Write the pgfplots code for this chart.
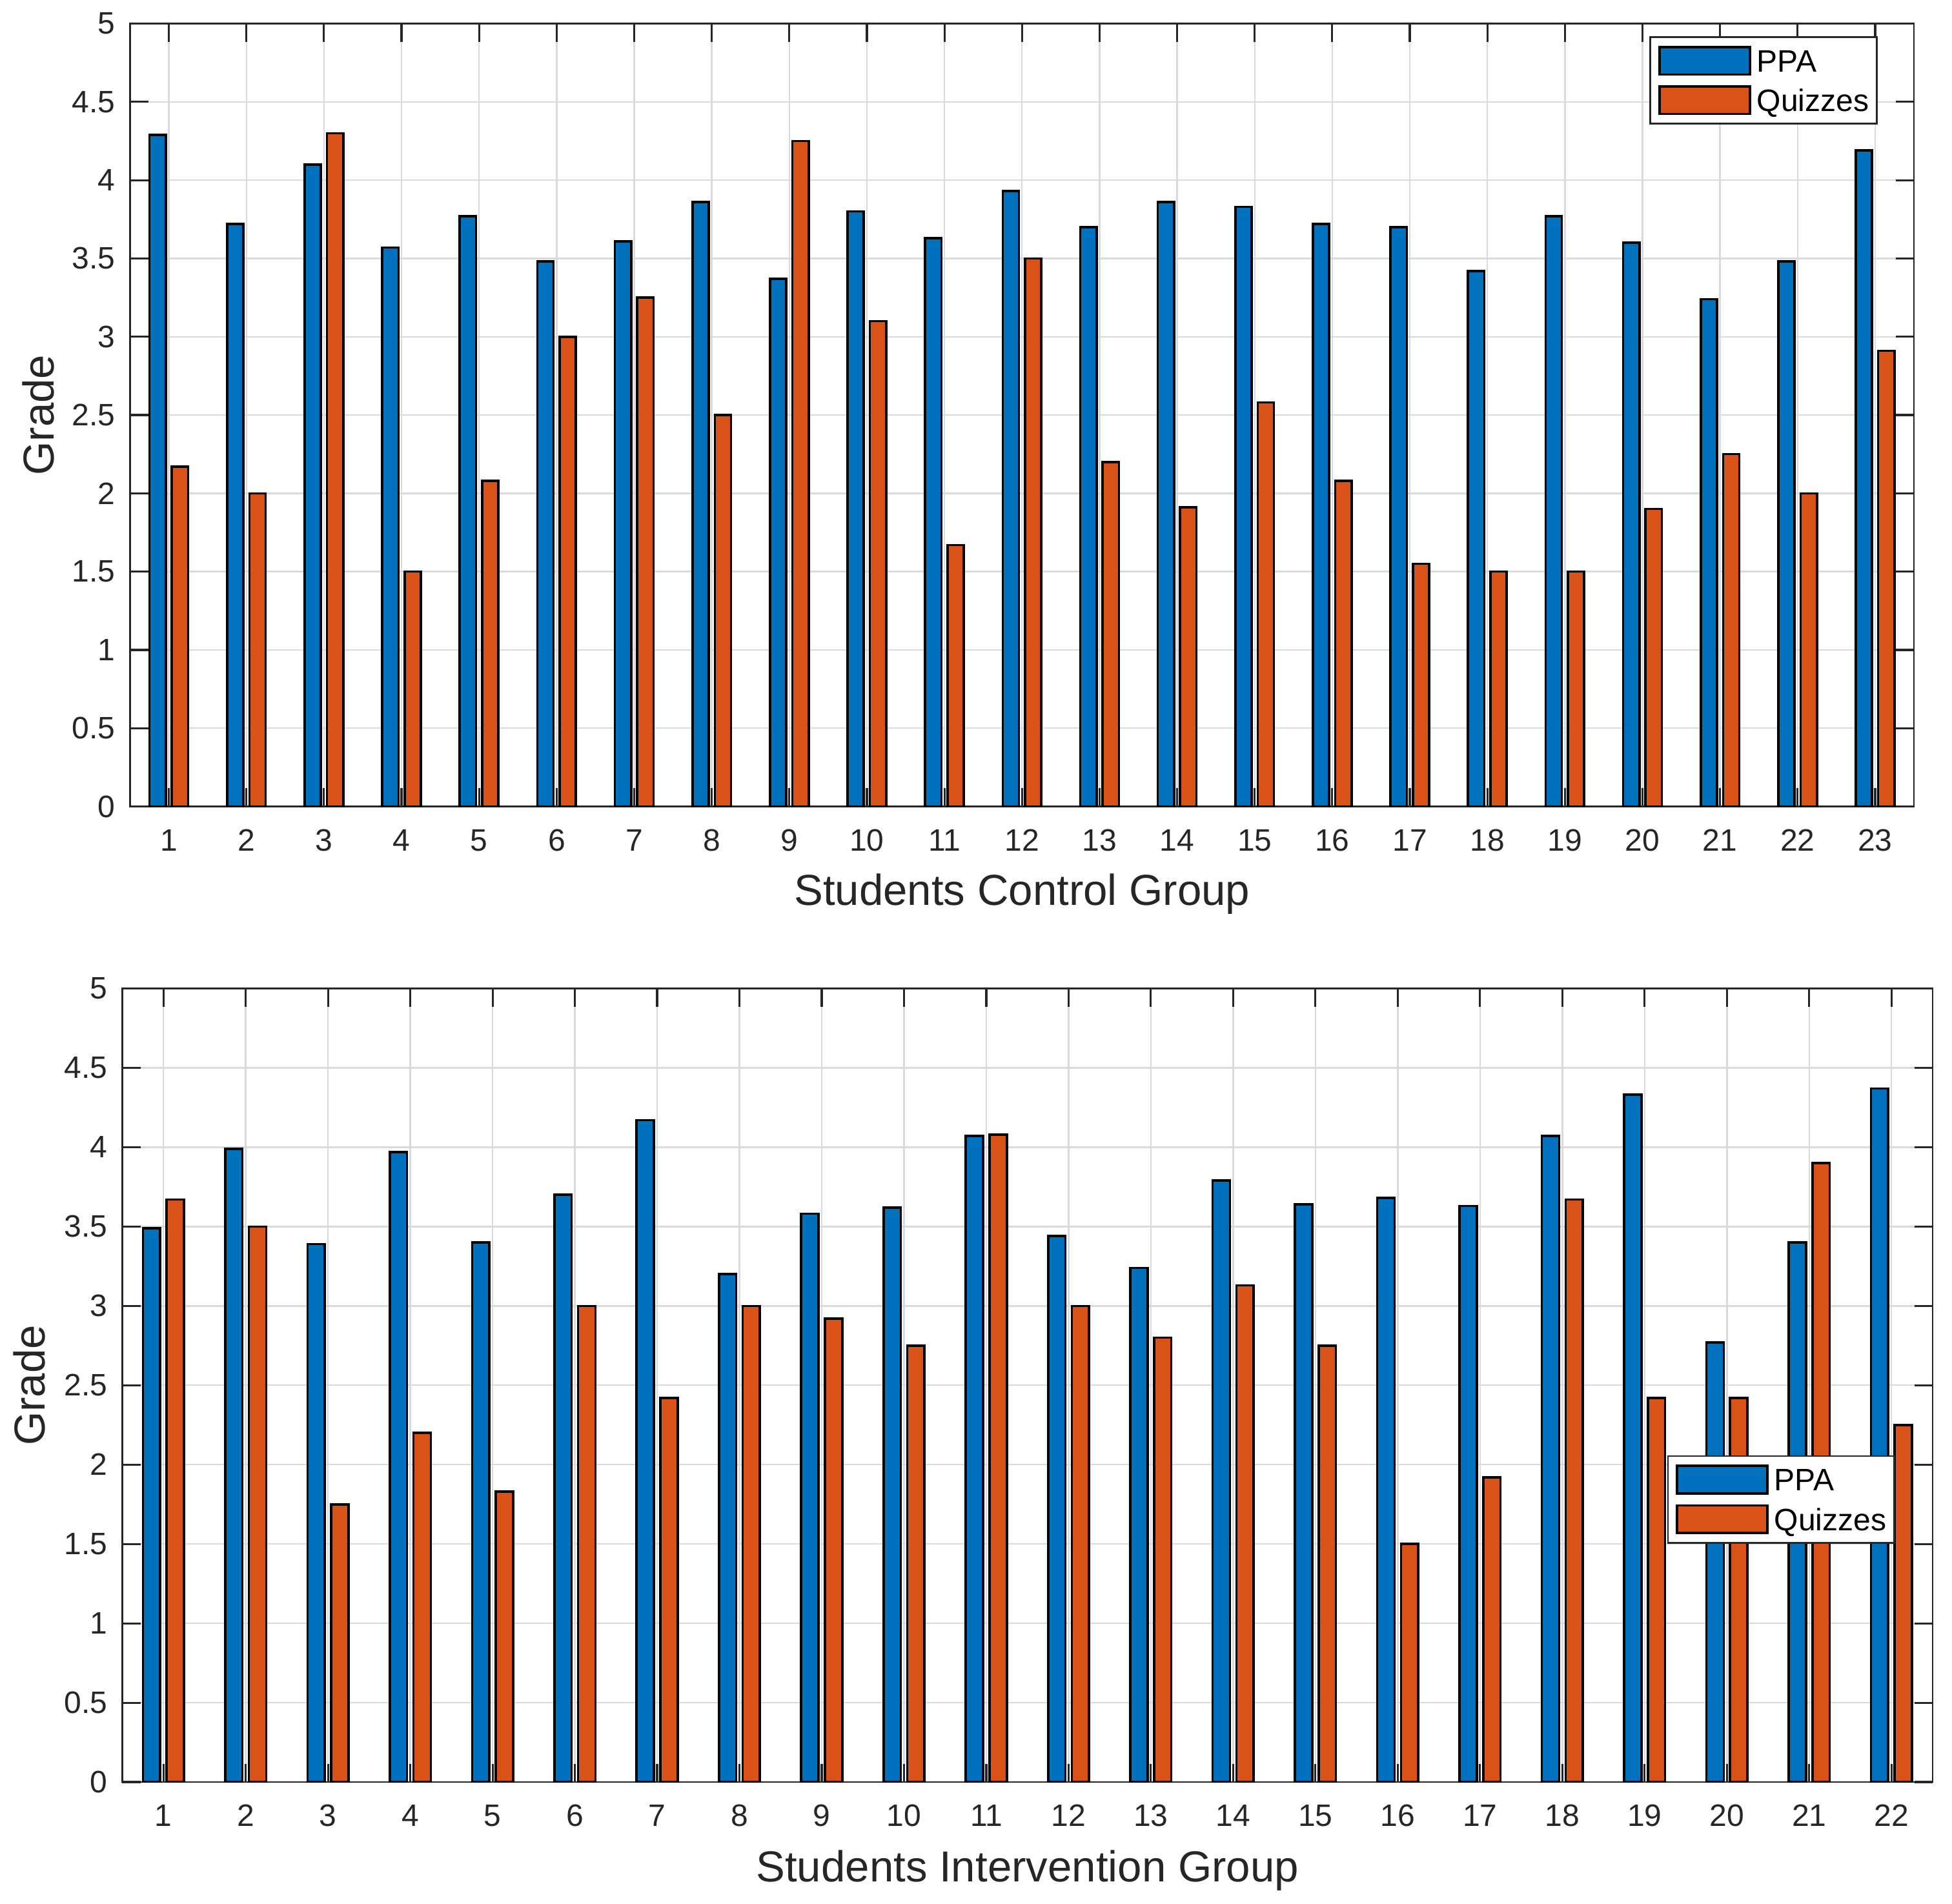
\documentclass[border=0pt]{standalone}
\usepackage{pgfplots}
\pgfplotsset{compat=1.18}
\usepackage{fontspec}
\setmainfont{Liberation Sans}
\definecolor{axgray}{RGB}{38,38,38}
\definecolor{gridgray}{RGB}{218,218,218}
\definecolor{matblue}{RGB}{0,114,189}
\definecolor{matorange}{RGB}{217,83,25}
\pgfplotsset{
  /pgfplots/ybar legend/.style={/pgfplots/legend image code/.code={\draw[##1, line width=0.75pt] (0pt,-4.45pt) rectangle (29.1pt,4.45pt);}},
  myaxis/.style={
    scale only axis, anchor=north west,
    ymin=0, ymax=5, ytick={0,0.5,1,1.5,2,2.5,3,3.5,4,4.5,5},
    yticklabels={0,0.5,1,1.5,2,2.5,3,3.5,4,4.5,5},
    ybar, bar width=0.21,
    grid=major, major grid style={color=gridgray, line width=0.5pt},
    axis line style={color=axgray, line width=0.6pt},
    every tick/.style={color=axgray, line width=0.65pt},
    tick align=inside, tick pos=both, major tick length=5.9pt,
    /pgf/number format/assume math mode=true,
    tick label style={font=\fontsize{10}{12}\selectfont, text=axgray},
    xticklabel style={anchor=base, yshift=-14.3pt},
    yticklabel style={anchor=east, inner sep=0pt, xshift=-4.6pt},
    label style={font=\fontsize{14}{16.8}\selectfont, text=axgray},
    ylabel={Grade},
    legend cell align=left,
    legend style={draw=axgray, line width=0.6pt, fill=white, inner xsep=2.6pt, inner ysep=2.8pt,
      row sep=3.1pt, column sep=1.9pt, font=\fontsize{10}{12}\selectfont, text=black,
      nodes={inner sep=0pt, text height=7.2pt, text depth=0pt, anchor=west}, anchor=north west},
  },
  ppa/.style={fill=matblue, draw=black, line width=0.75pt, bar shift=-0.144},
  quiz/.style={fill=matorange, draw=black, line width=0.75pt, bar shift=0.144},
}
\pgfplotstableread{
x ppa quiz
1 4.29 2.17
2 3.72 2.00
3 4.10 4.30
4 3.57 1.50
5 3.77 2.08
6 3.48 3.00
7 3.61 3.25
8 3.86 2.50
9 3.37 4.25
10 3.80 3.10
11 3.63 1.67
12 3.93 3.50
13 3.70 2.20
14 3.86 1.91
15 3.83 2.58
16 3.72 2.08
17 3.70 1.55
18 3.42 1.50
19 3.77 1.50
20 3.60 1.90
21 3.24 2.25
22 3.48 2.00
23 4.19 2.91
}\controltable
\pgfplotstableread{
x ppa quiz
1 3.49 3.67
2 3.99 3.50
3 3.39 1.75
4 3.97 2.20
5 3.40 1.83
6 3.70 3.00
7 4.17 2.42
8 3.20 3.00
9 3.58 2.92
10 3.62 2.75
11 4.07 4.08
12 3.44 3.00
13 3.24 2.80
14 3.79 3.13
15 3.64 2.75
16 3.68 1.50
17 3.63 1.92
18 4.07 3.67
19 4.33 2.42
20 2.77 2.42
21 3.40 3.90
22 4.37 2.25
}\interventiontable
\begin{document}
\begin{tikzpicture}
\useasboundingbox (0pt,0pt) rectangle (630pt,-614.583pt);
\begin{axis}[myaxis,
  at={(41.98pt,-7.60pt)}, width=575.73pt, height=252.73pt,
  xmin=0.5, xmax=23.5, xtick={1,...,23},
  xlabel={Students Control Group},
  xlabel style={at={(axis description cs:0.5,-0.1262)}, anchor=base},
  ylabel style={at={(axis description cs:-0.04288,0.5)}, rotate=0, anchor=base},
  legend style={at={(axis description cs:0.8518,0.9839)}},
]
\addplot[ppa] table[x=x, y=ppa] {\controltable};
\addplot[quiz] table[x=x, y=quiz] {\controltable};
\legend{PPA, Quizzes}
\end{axis}
\begin{axis}[myaxis,
  at={(39.46pt,-319.06pt)}, width=584.29pt, height=256.15pt,
  xmin=0.5, xmax=22.5, xtick={1,...,22},
  xlabel={Students Intervention Group},
  xlabel style={at={(axis description cs:0.5,-0.1253)}, anchor=base},
  ylabel style={at={(axis description cs:-0.04293,0.5)}, rotate=0, anchor=base},
  legend style={at={(axis description cs:0.8533,0.4119)}},
]
\addplot[ppa] table[x=x, y=ppa] {\interventiontable};
\addplot[quiz] table[x=x, y=quiz] {\interventiontable};
\legend{PPA, Quizzes}
\end{axis}
\end{tikzpicture}
\end{document}
